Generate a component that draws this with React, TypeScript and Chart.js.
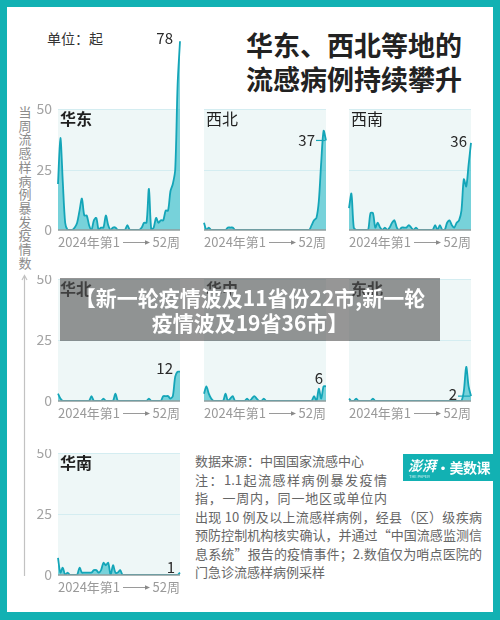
import React, { useEffect, useRef } from 'react';
import { Chart, registerables } from 'chart.js';

Chart.register(...registerables);

// ---------- data ----------
const WEEKS = [
  1, 2, 3, 4, 5, 6, 7, 8, 9, 10, 11, 12, 13, 14, 15, 16, 17, 18, 19, 20, 21, 22, 23, 24, 25, 26,
  27, 28, 29, 30, 31, 32, 33, 34, 35, 36, 37, 38, 39, 40, 41, 42, 43, 44, 45, 46, 47, 48, 49, 50, 51, 52,
];
const HUADONG = [19, 38, 20, 3, 0, 0, 0, 1, 3, 8, 13, 6, 6, 2, 0, 4, 5, 0, 1, 1, 6, 2, 0, 1, 1, 0, 0, 0, 0, 2, 0, 0, 0, 0, 0, 1, 3, 3, 17, 0, 1, 5, 3, 4, 4, 8, 8, 16, 19, 25, 60, 78];
const XIBEI = [3, 0, 1, 0, 0, 0, 0, 0, 0, 0, 1, 1, 1, 0, 0, 0, 0, 0, 0, 0, 0, 0, 0, 0, 0, 0, 0, 0, 0, 0, 0, 0, 0, 0, 0, 0, 0, 0, 0, 0, 0, 0, 0, 0, 0, 2, 4, 5, 12, 28, 41, 37];
const XINAN = [9, 15, 1, 0, 0, 0, 0, 0, 0, 7, 7, 1, 3, 1, 0, 1, 0, 1, 3, 4, 1, 0, 1, 1, 1, 2, 1, 0, 1, 0, 0, 0, 0, 0, 0, 0, 2, 0, 2, 0, 0, 3, 4, 2, 1, 3, 4, 8, 21, 18, 27, 36];
const HUABEI = [3, 1, 0, 0, 0, 0, 0, 0, 0, 0, 0, 0, 0, 0, 2, 0, 0, 0, 0, 1, 0, 0, 0, 0, 3, 0, 0, 0, 0, 0, 0, 0, 0, 0, 0, 0, 0, 0, 1, 0, 0, 0, 0, 0, 2, 2, 2, 1, 2, 10, 12, 12];
const HUAZHONG = [3, 6, 3, 1, 0, 0, 0, 0, 0, 3, 0, 1, 2, 0, 0, 0, 0, 0, 1, 0, 1, 2, 1, 0, 0, 1, 0, 0, 0, 0, 0, 0, 0, 0, 0, 0, 0, 0, 0, 0, 0, 0, 0, 0, 0, 0, 2, 0, 5, 1, 6, 6];
const DONGBEI = [1, 0, 0, 1, 0, 0, 0, 0, 0, 0, 1, 0, 0, 0, 0, 0, 0, 0, 0, 0, 0, 0, 0, 0, 0, 0, 0, 0, 0, 0, 0, 0, 0, 0, 0, 0, 0, 0, 0, 0, 0, 0, 0, 0, 0, 0, 0, 0, 4, 14, 6, 2];
const HUANAN = [7, 1, 3, 0, 1, 0, 0, 0, 0, 3, 1, 1, 1, 1, 1, 2, 2, 1, 2, 5, 4, 5, 0, 4, 1, 1, 2, 0, 0, 0, 0, 0, 0, 0, 0, 0, 0, 0, 0, 0, 0, 0, 0, 0, 0, 0, 0, 0, 0, 0, 0, 1];

const REGIONS = ['华东', '西北', '西南', '华北', '华中', '东北', '华南'];
const Y_TICKS = [0, 25, 50];
const X_START = '2024年第1';
const X_END = '52周';

const TITLE_LINES = ['华东、西北等地的', '流感病例持续攀升'];
const UNIT = '单位：起';
const Y_TITLE = '当周流感样病例暴发疫情数';
const BANNER = ['【新一轮疫情波及11省份22市,新一轮', '疫情波及19省36市】'];
const NOTES = [
  '数据来源：中国国家流感中心',
  '注：1.1起流感样病例暴发疫情',
  '指，一周内，同一地区或单位内',
  '出现 10 例及以上流感样病例，经县（区）级疾病',
  '预防控制机构核实确认，并通过“中国流感监测信',
  '息系统”报告的疫情事件；2.数值仅为哨点医院的',
  '门急诊流感样病例采样',
];

// ---------- styles ----------
const TEAL = '#12b1b3';
const LINE = '#14a5b8';
const FILL = 'rgba(45,188,200,0.62)';
const PLOT_BG = '#eef7f7';
const GRID = '#d4edf1';
const FONT = '"Noto Sans CJK SC", "Noto Sans", sans-serif';

const COLS = [58, 204, 349];
const PLOT_W = 122;
const ROWS = [
  { y50: 109, y0: 230 },
  { y50: 279, y0: 401 },
  { y50: 453, y0: 575 },
];

type PanelCfg = {
  data: number[];
  name: string;
  col: number;
  row: number;
  headroom: number;
  bold: boolean;
  lab: { dx: number; dy: number; tick: number };
};

const PANELS: PanelCfg[] = [
  { data: HUADONG, name: REGIONS[0], col: 0, row: 0, headroom: 72, bold: true, lab: { dx: 7, dy: -3, tick: 0 } },
  { data: XIBEI, name: REGIONS[1], col: 1, row: 0, headroom: 0, bold: false, lab: { dx: 11, dy: 0, tick: 10 } },
  { data: XINAN, name: REGIONS[2], col: 2, row: 0, headroom: 0, bold: false, lab: { dx: 4, dy: -2, tick: 0 } },
  { data: HUABEI, name: REGIONS[3], col: 0, row: 1, headroom: 0, bold: true, lab: { dx: 7, dy: -3, tick: 0 } },
  { data: HUAZHONG, name: REGIONS[4], col: 1, row: 1, headroom: 0, bold: true, lab: { dx: 3, dy: -8, tick: 0 } },
  { data: DONGBEI, name: REGIONS[5], col: 2, row: 1, headroom: 0, bold: true, lab: { dx: 14, dy: -2, tick: 13 } },
  { data: HUANAN, name: REGIONS[6], col: 0, row: 2, headroom: 0, bold: true, lab: { dx: 5, dy: -5, tick: 0 } },
];

const PAD_L = 50;
const PAD_R = 6;
const PAD_T = 4;
const PAD_B = 24;

function Panel({ p }: { p: PanelCfg }) {
  const ref = useRef<HTMLCanvasElement>(null);
  const row = ROWS[p.row];
  const left = COLS[p.col];
  const areaH = row.y0 - row.y50 + p.headroom;
  const yMax = (50 * areaH) / (row.y0 - row.y50);
  const W = PLOT_W + PAD_L + PAD_R;
  const H = areaH + PAD_T + PAD_B;

  useEffect(() => {
    if (!ref.current) return;
    const plugin = {
      id: 'panelDeco',
      beforeDatasetsDraw(chart: any) {
        const { ctx, chartArea } = chart;
        const ys = chart.scales.y;
        const yTop = ys.getPixelForValue(50);
        const yBot = ys.getPixelForValue(0);
        ctx.save();
        ctx.fillStyle = PLOT_BG;
        ctx.fillRect(chartArea.left, yTop, chartArea.right - chartArea.left, yBot - yTop);
        ctx.strokeStyle = GRID;
        ctx.lineWidth = 1.2;
        Y_TICKS.forEach((t) => {
          if (t === 0) return;
          const y = Math.round(ys.getPixelForValue(t)) + 0.5;
          ctx.beginPath();
          ctx.moveTo(chartArea.left, y);
          ctx.lineTo(chartArea.right, y);
          ctx.stroke();
        });
        if (p.col === 0) {
          ctx.fillStyle = '#a3a3a3';
          ctx.font = `14px ${FONT}`;
          ctx.textAlign = 'right';
          ctx.textBaseline = 'middle';
          Y_TICKS.forEach((t) => {
            ctx.fillText(String(t), chartArea.left - 6, ys.getPixelForValue(t));
          });
        }
        ctx.restore();
      },
      afterDatasetsDraw(chart: any) {
        const { ctx, chartArea } = chart;
        const ys = chart.scales.y;
        const xs = chart.scales.x;
        const yBot = ys.getPixelForValue(0);
        ctx.save();
        ctx.strokeStyle = '#8f9c9c';
        ctx.lineWidth = 1.6;
        ctx.beginPath();
        ctx.moveTo(chartArea.left, yBot);
        ctx.lineTo(chartArea.right, yBot);
        ctx.stroke();
        ctx.fillStyle = '#1f1f1f';
        ctx.font = `${p.bold ? 'bold ' : ''}16px ${FONT}`;
        ctx.textAlign = 'left';
        ctx.textBaseline = 'middle';
        ctx.fillText(p.name, chartArea.left + 2, ys.getPixelForValue(50) + 10);
        const n = p.data.length - 1;
        const lx = xs.getPixelForValue(n);
        const ly = ys.getPixelForValue(p.data[n]);
        ctx.font = `15px ${FONT}`;
        ctx.fillStyle = '#2a2a2a';
        ctx.textAlign = 'right';
        ctx.fillText(String(p.data[n]), lx - p.lab.dx, ly + p.lab.dy);
        if (p.lab.tick > 0) {
          ctx.strokeStyle = LINE;
          ctx.lineWidth = 1.2;
          ctx.beginPath();
          ctx.moveTo(lx - p.lab.tick, ly);
          ctx.lineTo(lx - 1, ly);
          ctx.stroke();
        }
        const ty = yBot + 12;
        ctx.font = `13px ${FONT}`;
        ctx.fillStyle = '#9a9a9a';
        ctx.textAlign = 'left';
        ctx.fillText(X_START, chartArea.left, ty);
        ctx.textAlign = 'right';
        ctx.fillText(X_END, chartArea.right, ty);
        const ax0 = chartArea.left + 65;
        const ax1 = chartArea.left + 90;
        ctx.strokeStyle = '#9a9a9a';
        ctx.lineWidth = 1;
        ctx.beginPath();
        ctx.moveTo(ax0, ty + 0.5);
        ctx.lineTo(ax1, ty + 0.5);
        ctx.stroke();
        ctx.fillStyle = '#8a8a8a';
        ctx.beginPath();
        ctx.moveTo(ax1 + 2, ty + 0.5);
        ctx.lineTo(ax1 - 3, ty - 1.8);
        ctx.lineTo(ax1 - 3, ty + 2.8);
        ctx.closePath();
        ctx.fill();
        ctx.restore();
      },
    };
    const chart = new Chart(ref.current, {
      type: 'line',
      data: {
        labels: WEEKS,
        datasets: [
          {
            data: p.data,
            borderColor: LINE,
            borderWidth: 1.8,
            backgroundColor: FILL,
            fill: 'origin',
            pointRadius: 0,
            tension: 0.3,
          },
        ],
      },
      options: {
        animation: false,
        responsive: false,
        devicePixelRatio: 1,
        events: [],
        layout: { padding: { left: PAD_L, right: PAD_R, top: PAD_T, bottom: PAD_B } },
        scales: {
          x: { display: false },
          y: { display: false, min: 0, max: yMax },
        },
        plugins: { legend: { display: false }, tooltip: { enabled: false } },
      },
      plugins: [plugin],
    } as any);
    return () => chart.destroy();
  }, []);

  return (
    <canvas
      ref={ref}
      width={W}
      height={H}
      style={{
        position: 'absolute',
        left: left - PAD_L,
        top: row.y0 - areaH - PAD_T,
        width: W,
        height: H,
      }}
    />
  );
}

export default function App() {
  const noteTops = [461, 479.5, 498, 516.5, 535, 553.5, 572];
  const noteWidths = [0, 192, 192, 287, 287, 287, 0];
  return (
    <div
      style={{
        position: 'fixed',
        left: 0,
        top: 0,
        width: 500,
        height: 620,
        background: TEAL,
        fontFamily: FONT,
        overflow: 'hidden',
      }}
    >
      <div style={{ position: 'absolute', left: 7, top: 7, width: 486, height: 605, background: '#fff' }} />
      {TITLE_LINES.map((t, i) => (
        <div
          key={t}
          style={{
            position: 'absolute',
            left: 246,
            top: 45 + i * 33.5 - 18,
            height: 36,
            lineHeight: '36px',
            fontSize: 27,
            fontWeight: 'bold',
            color: '#222',
            whiteSpace: 'nowrap',
          }}
        >
          {t}
        </div>
      ))}
      <div
        style={{
          position: 'absolute',
          left: 47,
          top: 28,
          lineHeight: '20px',
          fontSize: 14,
          color: '#333',
          whiteSpace: 'nowrap',
        }}
      >
        {UNIT}
      </div>
      {Y_TITLE.split('').map((ch, i) => (
        <div
          key={i}
          style={{
            position: 'absolute',
            left: 17,
            top: 112 + i * 13.7 - 8,
            width: 16,
            height: 16,
            fontSize: 13,
            lineHeight: '16px',
            textAlign: 'center',
            color: '#8c8c8c',
          }}
        >
          {ch}
        </div>
      ))}
      <svg style={{ position: 'absolute', left: 0, top: 0 }} width={500} height={620}>
        <line x1={24.5} y1={276} x2={24.5} y2={576} stroke="#c2c2c2" strokeWidth={1.2} />
        <polyline points="22,280 24.5,275.5 27,280" fill="none" stroke="#c2c2c2" strokeWidth={1.2} />
      </svg>
      {PANELS.map((p) => (
        <Panel key={p.name} p={p} />
      ))}
      {NOTES.map((t, i) => (
        <div
          key={t}
          style={{
            position: 'absolute',
            left: 195,
            top: noteTops[i] - 9,
            width: noteWidths[i] || undefined,
            lineHeight: '18px',
            fontSize: 13,
            color: '#666',
            whiteSpace: 'nowrap',
            textAlign: noteWidths[i] ? 'justify' : 'left',
            textAlignLast: noteWidths[i] ? 'justify' : 'auto',
          } as any}
        >
          {t}
        </div>
      ))}
      <div
        style={{
          position: 'absolute',
          left: 403,
          top: 454,
          width: 90,
          height: 27,
          background: TEAL,
          color: '#fff',
          overflow: 'hidden',
        }}
      >
        <span
          style={{
            position: 'absolute',
            left: 5,
            top: 2,
            fontSize: 14,
            lineHeight: '18px',
            fontWeight: 'bold',
            fontStyle: 'italic',
            whiteSpace: 'nowrap',
          }}
        >
          澎湃
        </span>
        <span
          style={{
            position: 'absolute',
            left: 6,
            top: 20,
            fontSize: 4,
            lineHeight: '5px',
            whiteSpace: 'nowrap',
            opacity: 0.8,
          }}
        >
          THE PAPER
        </span>
        <span
          style={{
            position: 'absolute',
            left: 33,
            top: 4,
            fontSize: 14,
            lineHeight: '18px',
            fontWeight: 'bold',
            whiteSpace: 'nowrap',
            letterSpacing: -0.5,
          }}
        >
          ·美数课
        </span>
      </div>
      <div
        style={{
          position: 'absolute',
          left: 60,
          top: 278,
          width: 380,
          height: 63,
          background: 'rgba(85,85,85,0.62)',
          zIndex: 10,
        }}
      >
        {BANNER.map((t, i) => (
          <div
            key={t}
            style={{
              position: 'absolute',
              left: -10,
              width: 400,
              top: 19 + i * 25 - 13,
              lineHeight: '26px',
              fontSize: 21,
              fontWeight: 'bold',
              color: '#fff',
              textAlign: 'center',
              whiteSpace: 'nowrap',
            }}
          >
            {t}
          </div>
        ))}
      </div>
    </div>
  );
}
